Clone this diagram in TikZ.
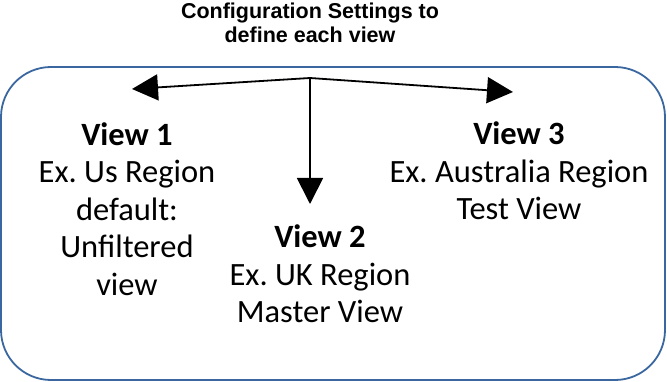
\documentclass[tikz,border=0pt]{standalone}
\usepackage{fontspec}
\setmainfont{Carlito}
\newfontfamily\titlefont{Liberation Sans}
\usetikzlibrary{arrows.meta}
\definecolor{boxblue}{HTML}{3A67A0}
\frenchspacing
\tikzset{
  frame/.style={draw=boxblue, line width=1.8pt, rounded corners=50pt},
  conn/.style={draw=black, line width=1.8pt, -{Triangle[length=26pt,width=26pt]}},
  viewtext/.style={align=center, inner sep=0pt, anchor=base, font=\fontsize{32.5}{37.5}\selectfont},
  titletext/.style={align=center, inner sep=0pt, anchor=base, font=\titlefont\bfseries\fontsize{21.5}{24}\selectfont}
}
\begin{document}
\begin{tikzpicture}[x=1pt,y=-1pt]
\useasboundingbox (0,0) rectangle (667,382);
\node[titletext] (title) at (310,43) {Configuration Settings to\\define each view};
\draw[frame] (1,67) rectangle (665,380);
\coordinate (hub) at (310,78);
\coordinate (t1) at (132,89);
\coordinate (t2) at (310,204);
\coordinate (t3) at (513,92);
\node[viewtext] (v1) at (127,295) {\textbf{View 1}\\Ex. Us Region\\default:\\Unfiltered\\view};
\node[viewtext] (v2) at (320,323) {\textbf{View 2}\\Ex. UK Region\\Master View};
\node[viewtext] (v3) at (519,220) {\textbf{View 3}\\Ex. Australia Region\\Test View};
\draw[conn] (hub) -- (t1);
\draw[conn] (hub) -- (t2);
\draw[conn] (hub) -- (t3);
\end{tikzpicture}
\end{document}
